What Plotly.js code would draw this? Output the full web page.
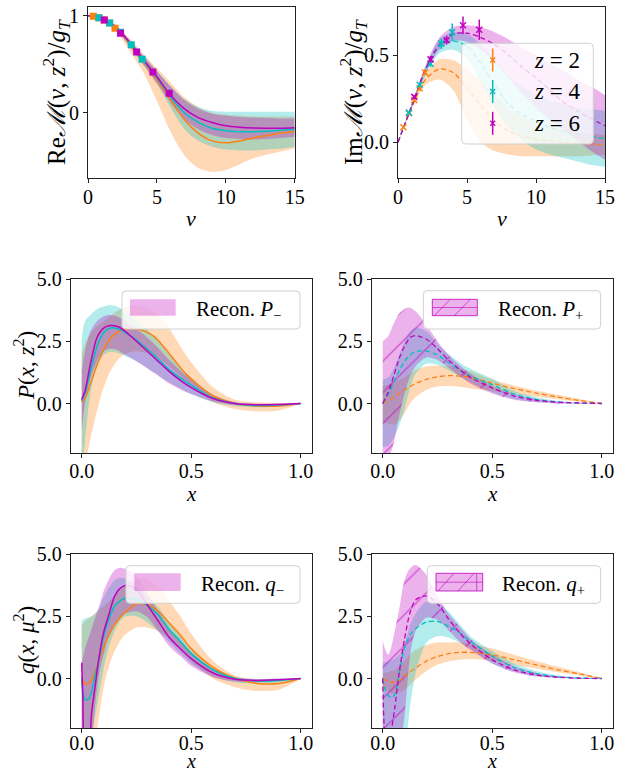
<!DOCTYPE html>
<html>
<head>
<meta charset="utf-8">
<script src="https://cdn.plot.ly/plotly-3.0.1.min.js"></script>
<style>
html,body{margin:0;padding:0;background:#fff;}
#chart{width:626px;height:773px;}
</style>
</head>
<body>
<div id="chart"></div>
<script>
// ---------------- DATA ----------------
// Ioffe-time grid
const nuGrid = [0,1,2,3,4,5,6,7,8,9,10,11,12,13,14,15];
// Re M fits (z=2,4,6): centre, lower, upper
const reMid2 = [1.0,0.97,0.88,0.71,0.53,0.34,0.13,-0.07,-0.21,-0.29,-0.31,-0.29,-0.26,-0.235,-0.21,-0.19];
const reLo2  = [1.0,0.96,0.85,0.64,0.42,0.12,-0.2,-0.44,-0.57,-0.61,-0.59,-0.53,-0.47,-0.43,-0.4,-0.37];
const reHi2  = [1.0,0.98,0.9,0.77,0.61,0.46,0.31,0.16,0.06,0.0,-0.02,-0.03,-0.04,-0.04,-0.04,-0.04];
const reMid4 = [1.0,0.975,0.885,0.72,0.54,0.36,0.16,0.0,-0.1,-0.16,-0.185,-0.195,-0.195,-0.19,-0.18,-0.17];
const reLo4  = [1.0,0.97,0.87,0.69,0.5,0.3,0.05,-0.17,-0.29,-0.35,-0.38,-0.39,-0.39,-0.38,-0.37,-0.35];
const reHi4  = [1.0,0.98,0.9,0.75,0.59,0.43,0.27,0.14,0.06,0.02,0.01,0.01,0.01,0.01,0.01,0.01];
const reMid6 = [1.0,0.975,0.89,0.73,0.55,0.37,0.18,0.04,-0.05,-0.1,-0.135,-0.15,-0.158,-0.16,-0.16,-0.155];
const reLo6  = [1.0,0.965,0.86,0.69,0.5,0.3,0.1,-0.07,-0.17,-0.23,-0.26,-0.27,-0.275,-0.27,-0.26,-0.25];
const reHi6  = [1.0,0.98,0.9,0.75,0.59,0.43,0.27,0.13,0.04,-0.01,-0.03,-0.045,-0.05,-0.055,-0.06,-0.06];
// Im M fits
const imMid2 = [0,0.2,0.36,0.42,0.4,0.31,0.21,0.12,0.065,0.035,0.018,0.008,0.0,-0.006,-0.01,-0.015];
const imLo2  = [0,0.19,0.33,0.36,0.3,0.13,0.0,-0.05,-0.07,-0.08,-0.08,-0.08,-0.08,-0.08,-0.075,-0.07];
const imHi2  = [0,0.21,0.39,0.475,0.47,0.42,0.35,0.27,0.2,0.15,0.11,0.09,0.07,0.06,0.05,0.04];
const imMid4 = [0,0.21,0.41,0.55,0.58,0.55,0.45,0.33,0.22,0.16,0.12,0.085,0.06,0.045,0.032,0.022];
const imLo4  = [0,0.2,0.385,0.51,0.53,0.48,0.34,0.2,0.09,0.01,-0.04,-0.07,-0.09,-0.11,-0.13,-0.14];
const imHi4  = [0,0.22,0.435,0.59,0.63,0.62,0.56,0.47,0.38,0.32,0.27,0.24,0.22,0.2,0.19,0.18];
const imMid6 = [0,0.21,0.42,0.56,0.62,0.625,0.6,0.56,0.5,0.43,0.37,0.3,0.23,0.18,0.135,0.095];
const imLo6  = [0,0.2,0.4,0.53,0.58,0.575,0.53,0.46,0.37,0.28,0.2,0.13,0.07,0.01,-0.05,-0.1];
const imHi6  = [0,0.22,0.44,0.6,0.66,0.67,0.66,0.63,0.59,0.54,0.5,0.45,0.41,0.36,0.32,0.27];
// lattice data points
const nuZ2 = [0.39,0.79,1.18,1.57,1.96];
const nuZ4 = [0.79,1.57,2.36,3.14,3.93];
const nuZ6 = [1.18,2.36,3.53,4.71,5.89];
const reData2 = [0.995,0.98,0.955,0.925,0.87];
const reErr2  = [0.002,0.003,0.004,0.005,0.006];
const reData4 = [0.98,0.925,0.83,0.70,0.55];
const reErr4  = [0.003,0.005,0.007,0.01,0.012];
const reData6 = [0.955,0.82,0.625,0.42,0.2];
const reErr6  = [0.004,0.008,0.012,0.02,0.035];
const imData2 = [0.086,0.166,0.242,0.31,0.40];
const imErr2  = [0.005,0.008,0.01,0.013,0.017];
const imData4 = [0.17,0.33,0.45,0.565,0.63];
const imErr4  = [0.008,0.012,0.018,0.03,0.05];
const imData6 = [0.26,0.475,0.585,0.67,0.645];
const imErr6  = [0.012,0.02,0.025,0.05,0.058];
// P_- reconstruction
const xPm = [0,0.015,0.04,0.07,0.1,0.13,0.16,0.19,0.25,0.33,0.4,0.48,0.6,0.7,0.8,0.9,1.0];
const pmMid2 = [0.05,0.2,0.8,1.55,2.16,2.6,2.85,2.96,3.0,2.7,2.0,1.15,0.3,0.0,-0.1,-0.1,0];
const pmLo2  = [-3.5,-2.6,-1.4,-0.3,0.63,1.3,1.7,1.96,2.1,1.92,1.5,0.85,0.05,-0.22,-0.32,-0.28,0];
const pmHi2  = [2.0,2.4,2.8,3.1,3.3,3.5,3.7,3.85,3.95,3.7,3.0,1.9,0.65,0.15,0.05,0.02,0];
const pmMid4 = [0.1,0.4,1.3,2.3,2.85,3.03,3.02,2.9,2.55,1.95,1.35,0.85,0.22,0.0,-0.08,-0.06,0];
const pmLo4  = [-3,-1.5,0.4,1.5,1.95,2.08,2.05,1.95,1.7,1.25,0.85,0.45,0.05,-0.1,-0.15,-0.12,0];
const pmHi4  = [2.6,3.3,3.56,3.8,3.9,3.96,3.9,3.75,3.35,2.7,1.95,1.2,0.35,0.05,-0.02,0,0];
const pmMid6 = [0.16,0.5,1.6,2.65,3.03,3.13,3.1,2.96,2.5,1.85,1.28,0.75,0.2,0.0,-0.05,-0.04,0];
const pmLo6  = [-1.1,0.0,1.0,1.7,2.1,2.2,2.16,2.0,1.7,1.23,0.8,0.45,0.08,-0.06,-0.1,-0.08,0];
const pmHi6  = [1.3,2.1,2.9,3.3,3.5,3.55,3.5,3.35,3.0,2.4,1.75,1.1,0.35,0.05,-0.01,0.0,0];
// P_+ reconstruction
const xPp = [0,0.025,0.05,0.075,0.1,0.125,0.15,0.2,0.25,0.3,0.35,0.4,0.5,0.6,0.7,0.8,0.9,1.0];
const ppMid2 = [0,0.12,0.25,0.4,0.55,0.68,0.8,0.97,1.07,1.12,1.1,1.05,0.82,0.6,0.42,0.26,0.12,0];
const ppLo2  = [-0.75,-0.8,-0.85,-0.7,-0.4,0.0,0.25,0.55,0.68,0.7,0.67,0.6,0.5,0.38,0.27,0.17,0.07,0];
const ppHi2  = [0.7,0.75,0.85,0.95,1.05,1.2,1.35,1.5,1.52,1.5,1.42,1.3,0.95,0.72,0.52,0.35,0.18,0];
const ppMid4 = [0,0.35,0.85,1.3,1.7,1.95,2.09,2.1,1.95,1.65,1.35,1.1,0.75,0.38,0.17,0.06,0.02,0];
const ppLo4  = [-1.75,-1.7,-1.4,-0.9,-0.2,0.6,1.2,1.6,1.55,1.35,1.1,0.85,0.45,0.18,0.06,0.01,0,0];
const ppHi4  = [0.95,1.05,1.4,1.95,2.5,2.9,3.05,2.9,2.4,2.0,1.65,1.4,1.0,0.5,0.25,0.1,0.03,0];
const ppMid6 = [0,0.45,1.1,1.8,2.3,2.65,2.73,2.58,2.2,1.75,1.38,1.05,0.63,0.3,0.13,0.05,0.02,0];
const ppLo6  = [-2.3,-2.2,-1.6,-0.5,0.4,1.1,1.5,1.85,1.75,1.45,1.1,0.8,0.4,0.15,0.05,0.0,0.0,0];
const ppHi6  = [2.5,2.7,3.2,3.6,3.8,3.85,3.7,3.15,2.5,1.95,1.55,1.2,0.7,0.38,0.18,0.07,0.02,0];
// q_- reconstruction
const xQm = [0,0.005,0.015,0.03,0.045,0.06,0.08,0.1,0.125,0.15,0.175,0.2,0.25,0.3,0.35,0.4,0.45,0.5,0.6,0.7,0.8,0.9,1.0];
const qmMid2 = [0,-0.1,-0.2,-0.2,-0.06,0.25,0.75,1.25,1.75,2.15,2.45,2.67,3.0,2.96,2.7,2.23,1.75,1.2,0.45,0.02,-0.2,-0.2,0];
const qmLo2  = [-2.5,-3,-3.5,-3.5,-3,-2.5,-1.5,-0.35,0.5,1.1,1.5,1.78,2.05,2.05,1.9,1.6,1.25,0.7,0.0,-0.35,-0.5,-0.45,0];
const qmHi2  = [2.15,2.2,2.3,2.4,2.5,2.6,2.75,2.9,3.1,3.3,3.55,3.8,4.0,4.0,3.7,3.1,2.5,1.8,0.7,0.12,-0.05,-0.03,0];
const qmMid4 = [0.03,-0.5,-0.84,-0.84,-0.55,0.1,0.8,1.7,2.4,2.9,3.12,3.22,3.16,2.94,2.55,1.96,1.5,1.0,0.35,0.0,-0.1,-0.08,0];
const qmLo4  = [-2.5,-3,-3,-2.8,-2.3,-1.6,-0.6,0.4,1.3,1.9,2.3,2.5,2.5,2.25,1.9,1.45,1.0,0.6,0.08,-0.15,-0.2,-0.15,0];
const qmHi4  = [2.3,2.35,2.4,2.45,2.5,2.6,2.85,3.25,3.65,3.95,4.05,4.0,3.75,3.3,2.85,2.25,1.7,1.15,0.4,0.05,-0.02,0,0];
const qmMid6 = [0.63,-0.7,-3.5,-3.2,-1.4,-0.4,0.9,1.85,2.6,3.3,3.62,3.74,3.58,2.95,2.3,1.65,1.2,0.8,0.22,-0.03,-0.08,-0.05,0];
const qmLo6  = [-2.5,-3,-4,-4,-2.8,-1.2,0.2,0.95,1.75,2.15,2.45,2.62,2.7,2.45,1.9,1.3,0.9,0.5,0.05,-0.12,-0.14,-0.08,0];
const qmHi6  = [0.63,0.8,1.2,1.6,2.0,2.4,2.9,3.5,4.0,4.35,4.45,4.4,4.1,3.4,2.7,2.0,1.5,1.05,0.4,0.05,-0.02,-0.01,0];
// q_+ reconstruction
const xQp = [0,0.01,0.025,0.04,0.055,0.075,0.1,0.125,0.15,0.2,0.25,0.3,0.35,0.4,0.5,0.6,0.7,0.8,0.9,1.0];
const qpMid2 = [0,-0.05,-0.1,-0.14,-0.15,-0.1,0.1,0.27,0.42,0.7,0.88,1.0,1.05,1.05,0.95,0.75,0.55,0.35,0.18,0];
const qpLo2  = [-0.3,-0.4,-0.5,-0.6,-0.6,-0.55,-0.45,-0.25,-0.05,0.3,0.55,0.68,0.75,0.78,0.72,0.55,0.4,0.25,0.12,0];
const qpHi2  = [0.2,0.22,0.25,0.3,0.35,0.5,0.7,0.95,1.15,1.35,1.45,1.45,1.45,1.42,1.2,0.95,0.7,0.47,0.25,0];
const qpMid4 = [0,-0.4,-0.68,-0.77,-0.65,0.2,1.25,1.75,2.0,2.27,2.29,2.1,1.85,1.5,0.9,0.45,0.2,0.07,0.02,0];
const qpLo4  = [-2.5,-2.5,-2.5,-2.5,-2.5,-2.5,-2.5,-1.1,0.2,1.45,1.7,1.65,1.45,1.2,0.6,0.28,0.1,0.03,0.0,0];
const qpHi4  = [0.63,0.65,0.68,0.72,0.8,0.95,1.35,2.16,2.6,3.1,3.05,2.7,2.2,1.7,1.1,0.6,0.3,0.12,0.03,0];
const qpMid6 = [0,-2.5,-3.5,-2.1,-1.2,0.2,1.6,2.65,3.15,3.32,3.0,2.4,1.85,1.4,0.75,0.35,0.14,0.05,0.01,0];
const qpLo6  = [-2.5,-3,-3,-3,-3,-2.8,-1.5,0.9,1.9,2.45,2.35,1.95,1.5,1.15,0.6,0.25,0.08,0.02,0,0];
const qpHi6  = [1.55,1.2,0.95,1.3,1.9,2.76,3.96,4.43,4.56,4.16,3.3,2.6,2.1,1.6,0.95,0.5,0.22,0.08,0.02,0];
// labels
const zLabels = ['2','4','6'];
const reconLabels = ['P','P','q','q'];
const reconSubs = ['\u2212','+','\u2212','+'];

// ---------------- STYLE ----------------
const W = 626, H = 773;
const px = x => x / W;
const py = y => 1 - y / H;
const COL = ['#ff7f0e', '#00bfbf', '#bf00bf'];
const FILL = ['rgba(255,127,14,0.3)', 'rgba(0,191,191,0.3)', 'rgba(191,0,191,0.3)'];
const FONT = 'Liberation Serif, DejaVu Serif, serif';

const traces = [];
function band(xs, lo, hi, k, ax, hatch) {
  traces.push({x: xs, y: lo, xaxis: 'x' + ax, yaxis: 'y' + ax, mode: 'lines',
    line: {width: 0, shape: 'spline', smoothing: 0.8}, showlegend: false, hoverinfo: 'skip'});
  const t = {x: xs, y: hi, xaxis: 'x' + ax, yaxis: 'y' + ax, mode: 'lines', fill: 'tonexty',
    fillcolor: FILL[k], line: {width: 0, shape: 'spline', smoothing: 0.8}, showlegend: false, hoverinfo: 'skip'};
  if (hatch) {
    t.fillpattern = {shape: '/', size: 22, solidity: 0.06, fgcolor: 'rgba(191,0,191,0.55)', bgcolor: FILL[k]};
  }
  traces.push(t);
}
function curve(xs, ys, k, ax, dash) {
  traces.push({x: xs, y: ys, xaxis: 'x' + ax, yaxis: 'y' + ax, mode: 'lines',
    line: {color: COL[k], width: dash ? 1.3 : 1.5, dash: dash ? '5px,3px' : 'solid', shape: 'spline', smoothing: 0.8},
    showlegend: false});
}
function points(xs, ys, es, k, ax, sym) {
  traces.push({x: xs, y: ys, xaxis: 'x' + ax, yaxis: 'y' + ax, mode: 'markers',
    error_y: {type: 'data', array: es, visible: true, color: COL[k], thickness: 1.5, width: 0},
    marker: sym === 'sq' ? {symbol: 'square', size: 7, color: COL[k]}
                         : {symbol: 'x-thin', size: 6, color: COL[k], line: {width: 1.5, color: COL[k]}},
    showlegend: false});
}

// panel 1: Re
band(nuGrid, reLo2, reHi2, 0, '', false);
band(nuGrid, reLo4, reHi4, 1, '', false);
band(nuGrid, reLo6, reHi6, 2, '', false);
curve(nuGrid, reMid2, 0, '', false);
curve(nuGrid, reMid4, 1, '', false);
curve(nuGrid, reMid6, 2, '', false);
points(nuZ2, reData2, reErr2, 0, '', 'sq');
points(nuZ4, reData4, reErr4, 1, '', 'sq');
points(nuZ6, reData6, reErr6, 2, '', 'sq');
// panel 2: Im
band(nuGrid, imLo2, imHi2, 0, '2', false);
band(nuGrid, imLo4, imHi4, 1, '2', false);
band(nuGrid, imLo6, imHi6, 2, '2', false);
curve(nuGrid, imMid2, 0, '2', true);
curve(nuGrid, imMid4, 1, '2', true);
curve(nuGrid, imMid6, 2, '2', true);
points(nuZ2, imData2, imErr2, 0, '2', 'x');
points(nuZ4, imData4, imErr4, 1, '2', 'x');
points(nuZ6, imData6, imErr6, 2, '2', 'x');
// panel 3: P-
band(xPm, pmLo2, pmHi2, 0, '3', false);
band(xPm, pmLo4, pmHi4, 1, '3', false);
band(xPm, pmLo6, pmHi6, 2, '3', false);
curve(xPm, pmMid2, 0, '3', false);
curve(xPm, pmMid4, 1, '3', false);
curve(xPm, pmMid6, 2, '3', false);
// panel 4: P+
band(xPp, ppLo2, ppHi2, 0, '4', false);
band(xPp, ppLo4, ppHi4, 1, '4', false);
band(xPp, ppLo6, ppHi6, 2, '4', true);
curve(xPp, ppMid2, 0, '4', true);
curve(xPp, ppMid4, 1, '4', true);
curve(xPp, ppMid6, 2, '4', true);
// panel 5: q-
band(xQm, qmLo2, qmHi2, 0, '5', false);
band(xQm, qmLo4, qmHi4, 1, '5', false);
band(xQm, qmLo6, qmHi6, 2, '5', false);
curve(xQm, qmMid2, 0, '5', false);
curve(xQm, qmMid4, 1, '5', false);
curve(xQm, qmMid6, 2, '5', false);
// panel 6: q+
band(xQp, qpLo2, qpHi2, 0, '6', false);
band(xQp, qpLo4, qpHi4, 1, '6', false);
band(xQp, qpLo6, qpHi6, 2, '6', true);
curve(xQp, qpMid2, 0, '6', true);
curve(xQp, qpMid4, 1, '6', true);
curve(xQp, qpMid6, 2, '6', true);

// ---------------- LAYOUT ----------------
const tickFont = {family: FONT, size: 20, color: '#000'};
function axisBase(extra) {
  return Object.assign({showline: true, mirror: true, linecolor: '#222', linewidth: 1,
    ticks: 'outside', ticklen: 4, tickwidth: 1, tickcolor: '#222', showgrid: false,
    zeroline: false, tickfont: tickFont, fixedrange: true}, extra);
}
const colL = [88, 294.7], colR = [398, 605];
const colL2 = [70.75, 311.65], colR2 = [371.75, 612.65];
const rowT = [7, 178], rowM = [279, 453.3], rowB = [554, 728.3];
const xd = c => [px(c[0]), px(c[1])];
const yd = r => [py(r[1]), py(r[0])];
const xPQ = {range: [-0.05, 1.05], tickvals: [0, 0.5, 1], tickformat: '.1f', ticklabelstandoff: -4};
const xPQb = {range: [-0.05, 1.05], tickvals: [0, 0.5, 1], tickformat: '.1f', ticklabelstandoff: -7};
const yPQ = {range: [-2, 5.0001], tickvals: [0, 2.5, 5], tickformat: '.1f'};

const layout = {
  width: W, height: H, margin: {l: 0, r: 0, t: 0, b: 0},
  paper_bgcolor: '#fff', plot_bgcolor: '#fff', showlegend: false,
  font: {family: FONT, color: '#000'},
  xaxis: axisBase({domain: xd(colL), range: [0, 15], tickvals: [0, 5, 10, 15], anchor: 'y', ticklabelstandoff: -3}),
  yaxis: axisBase({domain: yd(rowT), range: [-0.673, 1.0897], tickvals: [0, 1], anchor: 'x'}),
  xaxis2: axisBase({domain: xd(colR), range: [0, 15], tickvals: [0, 5, 10, 15], anchor: 'y2', ticklabelstandoff: -3}),
  yaxis2: axisBase({domain: yd(rowT), range: [-0.2045, 0.7749], tickvals: [0, 0.5], tickformat: '.1f', anchor: 'x2'}),
  xaxis3: axisBase(Object.assign({domain: xd(colL2), anchor: 'y3'}, xPQ)),
  yaxis3: axisBase(Object.assign({domain: yd(rowM), anchor: 'x3'}, yPQ)),
  xaxis4: axisBase(Object.assign({domain: xd(colR2), anchor: 'y4'}, xPQ)),
  yaxis4: axisBase(Object.assign({domain: yd(rowM), anchor: 'x4'}, yPQ)),
  xaxis5: axisBase(Object.assign({domain: xd(colL2), anchor: 'y5'}, xPQb)),
  yaxis5: axisBase(Object.assign({domain: yd(rowB), anchor: 'x5'}, yPQ)),
  xaxis6: axisBase(Object.assign({domain: xd(colR2), anchor: 'y6'}, xPQb)),
  yaxis6: axisBase(Object.assign({domain: yd(rowB), anchor: 'x6'}, yPQ)),
  shapes: [], annotations: []
};

// axis titles (as text annotations placed beside each axis)
function title(text, x, y, rot, size, yanch) {
  layout.annotations.push({text: text, x: px(x), y: py(y), xref: 'paper', yref: 'paper',
    showarrow: false, textangle: rot || 0, xanchor: 'center', yanchor: yanch || 'middle',
    font: {family: FONT, size: size || 22, color: '#000'}});
}
title('<i>ν</i>', 191.3, 218, 0, 22);
title('<i>ν</i>', 501.5, 218, 0, 22);
title('Re<i>ℳ</i>(<i>ν</i>, <i>z</i><sup>2</sup>)/<i>g<sub>T</sub></i>', 56, 92, -90, 25);
title('Im<i>ℳ</i>(<i>ν</i>, <i>z</i><sup>2</sup>)/<i>g<sub>T</sub></i>', 353, 92, -90, 25);
title('<i>x</i>', 191.2, 494, 0, 21);
title('<i>x</i>', 492.2, 494, 0, 21);
title('<i>x</i>', 191.2, 774, 0, 20, 'bottom');
title('<i>x</i>', 492.2, 774, 0, 20, 'bottom');
title('<i>P</i>(<i>x</i>, <i>z</i><sup>2</sup>)', 24, 366, -90, 23);
title('<i>q</i>(<i>x</i>, <i>μ</i><sup>2</sup>)', 24, 640, -90, 23);

// legend boxes
function roundBox(x0, y0, x1, y1, r) {
  const X = px, Y = py;
  return 'M' + X(x0 + r) + ',' + Y(y0) + ' L' + X(x1 - r) + ',' + Y(y0) +
    ' Q' + X(x1) + ',' + Y(y0) + ' ' + X(x1) + ',' + Y(y0 + r) +
    ' L' + X(x1) + ',' + Y(y1 - r) + ' Q' + X(x1) + ',' + Y(y1) + ' ' + X(x1 - r) + ',' + Y(y1) +
    ' L' + X(x0 + r) + ',' + Y(y1) + ' Q' + X(x0) + ',' + Y(y1) + ' ' + X(x0) + ',' + Y(y1 - r) +
    ' L' + X(x0) + ',' + Y(y0 + r) + ' Q' + X(x0) + ',' + Y(y0) + ' ' + X(x0 + r) + ',' + Y(y0) + ' Z';
}
function box(x0, y0, x1, y1) {
  layout.shapes.push({type: 'path', xref: 'paper', yref: 'paper', layer: 'above',
    path: roundBox(x0, y0, x1, y1, 4), fillcolor: 'rgba(255,255,255,0.8)',
    line: {color: '#d0d0d0', width: 1}});
}
function seg(x0, y0, x1, y1, color, w) {
  layout.shapes.push({type: 'line', xref: 'paper', yref: 'paper', layer: 'above',
    x0: px(x0), y0: py(y0), x1: px(x1), y1: py(y1), line: {color: color, width: w || 1}});
}
function swatch(x0, y0, x1, y1, hatch) {
  layout.shapes.push({type: 'rect', xref: 'paper', yref: 'paper', layer: 'above',
    x0: px(x0), x1: px(x1), y0: py(y1), y1: py(y0), fillcolor: FILL[2],
    line: {color: hatch ? 'rgba(191,0,191,0.8)' : 'rgba(0,0,0,0)', width: hatch ? 1 : 0}});
  if (hatch) {
    seg(x0 + 2, y1, x0 + 18, y0, 'rgba(191,0,191,0.6)', 1);
    seg(x0 + 22, y1, x0 + 38, y0, 'rgba(191,0,191,0.6)', 1);
    seg(x0, (y0 + y1) / 2, x1, (y0 + y1) / 2, 'rgba(191,0,191,0.6)', 1);
  }
}
function legText(text, x, y, size) {
  layout.annotations.push({text: text, x: px(x), y: py(y), xref: 'paper', yref: 'paper',
    showarrow: false, xanchor: 'left', yanchor: 'middle',
    font: {family: FONT, size: size || 20, color: '#000'}});
}

// z legend in Im panel
box(461.7, 43.3, 593.3, 144);
const rowsZ = [60, 91.5, 123.3];
for (let k = 0; k < 3; k++) {
  const cx = 492.7, cy = rowsZ[k];
  seg(cx, cy - 11.5, cx, cy + 11.5, COL[k], 1.5);
  seg(cx - 2.5, cy - 2.5, cx + 2.5, cy + 2.5, COL[k], 1.3);
  seg(cx - 2.5, cy + 2.5, cx + 2.5, cy - 2.5, COL[k], 1.3);
  legText('<i>z</i> = ' + zLabels[k], 532, cy, 23);
}
// reconstruction legends
const recBoxes = [
  [122, 291, 300, 329, 130, 299.3, 175.7, 315.7, 194],
  [423.3, 290.7, 600.7, 329, 432.3, 299.3, 477.3, 315.7, 495.7],
  [126, 565.7, 300, 603.3, 134.3, 573.3, 180.7, 591, 199],
  [427.3, 565.7, 600.7, 603.3, 436, 573.3, 482.7, 591, 500]
];
recBoxes.forEach((b, i) => {
  box(b[0], b[1], b[2], b[3]);
  const hatch = (i % 2) === 1;
  swatch(b[4], b[5], b[6], b[7], hatch);
  if (i === 3) seg(b[6] - 6, b[5], b[6] - 6, b[7], 'rgba(191,0,191,0.6)', 1);
  legText('Recon. <i>' + reconLabels[i] + '</i><sub>' + reconSubs[i] + '</sub>', b[8], (b[1] + b[3]) / 2, 21);
});

Plotly.newPlot('chart', traces, layout, {displayModeBar: false, staticPlot: true});
</script>
</body>
</html>
